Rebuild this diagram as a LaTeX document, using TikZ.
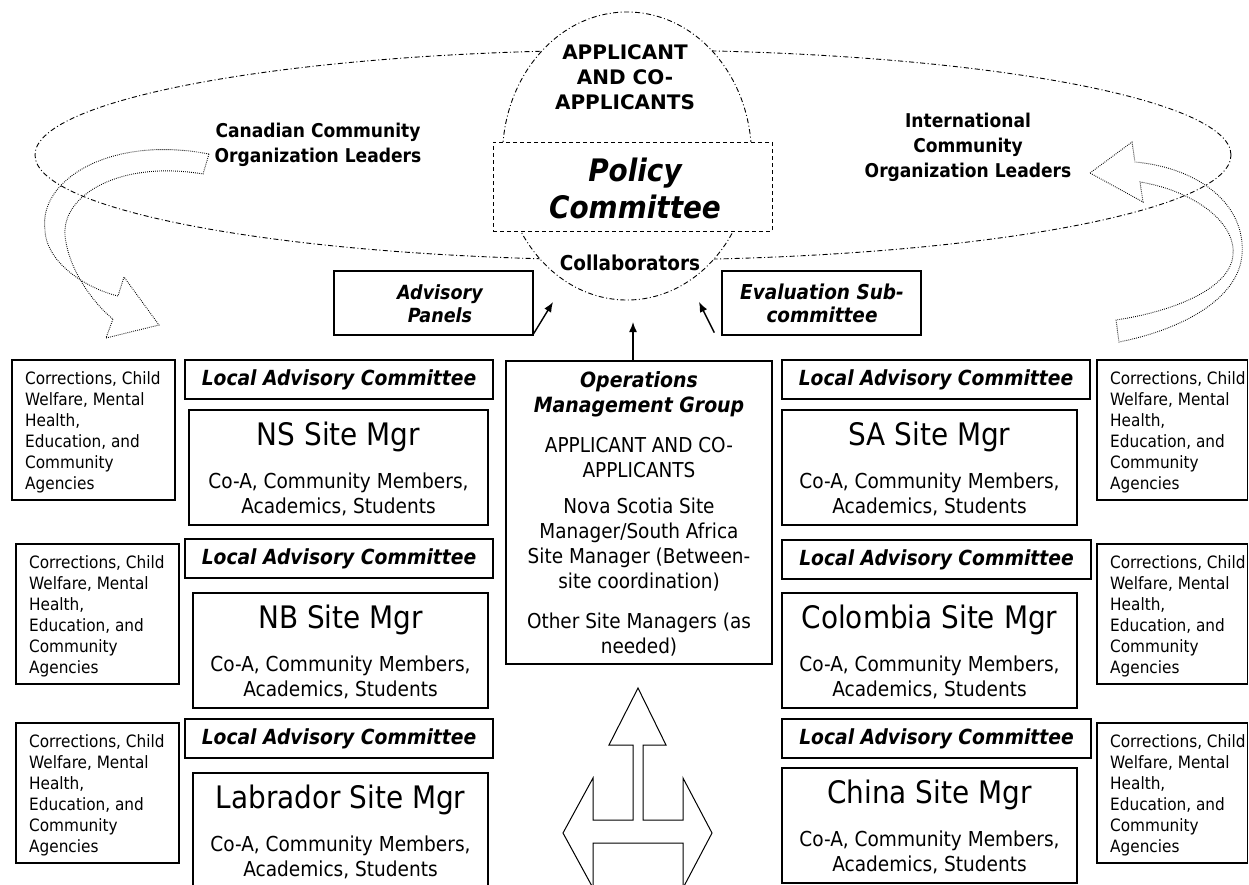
\documentclass[tikz,border=0pt]{standalone}
\usepackage{fontspec}
\setmainfont{DejaVu Sans Condensed}
\newfontfamily\widefont{DejaVu Sans}
\usetikzlibrary{arrows.meta,shapes.geometric}
\newcommand{\fs}[2]{\fontsize{#1}{#2}\selectfont}
\newcommand{\bi}{\bfseries\itshape}
\begin{document}
\begin{tikzpicture}[x=1pt,y=-1pt,
  box/.style={draw, line width=1.3pt, inner sep=0pt, fill=white},
  txt/.style={inner sep=0pt, align=center},
  ltxt/.style={inner sep=0pt, align=left, anchor=north west},
  dashdot/.style={dash pattern=on 5pt off 2.5pt on 1pt off 2.5pt, line width=0.9pt},
  dotline/.style={dash pattern=on 0.8pt off 1.2pt, line width=0.9pt},
  arr/.style={-{Latex[length=10pt,width=8pt]}, line width=1.4pt}]
\useasboundingbox (0,0) rectangle (1249,884);
\fill[white] (0,0) rectangle (1249,884);

% big ellipse
\node[draw, ellipse, dashdot, minimum width=1196pt, minimum height=210pt, inner sep=0pt] (ring) at (633,155) {};
% curved dotted arrows
\draw[dotline] (209,154) .. controls (110,135) and (38,180) .. (45,230)
   .. controls (46,262) and (85,288) .. (118,296) -- (124,277) -- (159,325) -- (106,338) -- (113,319)
   .. controls (95,305) and (68,270) .. (65,235) .. controls (62,195) and (120,160) .. (203,174) -- cycle;
\draw[dotline] (1090,173) -- (1132,142) -- (1135,162)
   .. controls (1200,168) and (1246,205) .. (1242,255) .. controls (1238,300) and (1180,330) .. (1119,342)
   -- (1116,320) .. controls (1170,312) and (1230,290) .. (1233,255)
   .. controls (1236,220) and (1190,190) .. (1140,182) -- (1143,202) -- cycle;

% core circle
\node[draw, ellipse, dashdot, fill=white, minimum width=249pt, minimum height=288pt, inner sep=0pt] (core) at (627,156) {};
\node[draw, dash pattern=on 4pt off 3pt, line width=1pt, fill=white, minimum width=279pt, minimum height=89pt, inner sep=0pt] (policy) at (632.5,186.5) {};
\node[txt, font=\fs{20}{25}\widefont\bfseries] (appl) at (625,77) {APPLICANT\\AND CO-\\APPLICANTS};
\node[txt, font=\fs{31}{37}\bi] (polT) at (635,188.5) {Policy\\Committee};
\node[txt, font=\fs{20.5}{25}\bfseries] (collab) at (630,263) {Collaborators};
\node[txt, font=\fs{19}{25}\bfseries] (canad) at (318,144.5) {Canadian Community\\Organization Leaders};
\node[txt, font=\fs{19}{25}\bfseries] (intl) at (968,147) {International\\Community\\Organization Leaders};

% advisory / evaluation
\node[box, minimum width=199pt, minimum height=64pt] (ap) at (433.5,303) {};
\node[txt, font=\fs{19.5}{23}\bi] (apT) at (440,303.5) {Advisory\\Panels};
\node[box, minimum width=199pt, minimum height=64pt] (es) at (821.5,303) {};
\node[txt, font=\fs{20.5}{23}\bi] (esT) at (822,303.5) {Evaluation Sub-\\committee};

% operations group
\node[box, minimum width=266pt, minimum height=303pt] (ops) at (639,512.5) {};
\node[txt, font=\fs{21}{25}\bi] (opsA) at (639,394.5) {Operations\\Management Group};
\node[txt, font=\fs{20.5}{25}] (opsB) at (639,457.5) {APPLICANT AND CO-\\APPLICANTS};
\node[txt, font=\fs{20.5}{25}] (opsC) at (639,545) {Nova Scotia Site\\Manager/South Africa\\Site Manager (Between-\\site coordination)};
\node[txt, font=\fs{20.5}{25}] (opsD) at (639,635) {Other Site Managers (as\\needed)};

% arrows to core
\coordinate (t1) at (553,302);
\coordinate (t2) at (633,322);
\coordinate (t3) at (699,302);
\draw[arr] ([yshift=2pt]ap.south east) -- (t1);
\draw[arr] (ops.north -| t2) -- (t2);
\draw[arr] ([xshift=-7pt,yshift=3pt]es.south west) -- (t3);

% local advisory committees
\foreach \n/\xa/\ya/\xb/\yb in {lacA/185/360/493/399, lacB/185/539/493/578, lacC/185/719/493/758,
  lacD/782/360/1090/399, lacE/782/540/1091/579, lacF/782/719/1091/758}{
  \node[box, minimum width={(\xb-\xa)*1pt}, minimum height={(\yb-\ya)*1pt}, font=\fs{20.8}{24}\bi]
    (\n) at ({(\xa+\xb)/2},{(\ya+\yb)/2}) {Local Advisory Committee};
}

% site manager boxes
\foreach \n/\xa/\ya/\xb/\yb/\t in {ns/189/410/488/525/NS Site Mgr, nb/193/593/488/708/NB Site Mgr,
  lab/193/773/488/888/Labrador Site Mgr, sa/782/410/1077/525/SA Site Mgr,
  col/782/593/1077/708/Colombia Site Mgr, chi/782/768/1077/883/China Site Mgr}{
  \node[box, minimum width={(\xb-\xa)*1pt}, minimum height={(\yb-\ya)*1pt}]
    (\n) at ({(\xa+\xb)/2},{(\ya+\yb)/2}) {};
  \node[txt, font=\fs{31}{37}] (\n T) at ({(\xa+\xb)/2},{\ya+27}) {\t};
  \node[txt, font=\fs{20.6}{25}] (\n S) at ({(\xa+\xb)/2},{\ya+84.5}) {Co-A, Community Members,\\Academics, Students};
}

% agencies boxes
\foreach \n/\xa/\ya/\xb/\yb in {agA/12/360/175/500, agB/16/544/179/684, agC/16/723/179/863,
  agD/1097/360/1247.5/500, agE/1097/544/1247.5/684, agF/1097/723/1247.5/863}{
  \node[box, minimum width={(\xb-\xa)*1pt}, minimum height={(\yb-\ya)*1pt}]
    (\n) at ({(\xa+\xb)/2},{(\ya+\yb)/2}) {};
  \node[ltxt, font=\fs{17}{21}] (\n T) at ({\xa+13},{\ya+11}) {Corrections, Child\\Welfare, Mental\\Health,\\Education, and\\Community\\Agencies};
}

% hollow T double arrow
\draw[line width=1pt, fill=white] (638,688) -- (666,745) -- (643,745) -- (643,820) -- (683,820) -- (683,778)
  -- (712,833) -- (683,888) -- (683,843) -- (593,843) -- (593,888) -- (563,833) -- (593,778)
  -- (593,820) -- (633,820) -- (633,745) -- (609,745) -- cycle;
\end{tikzpicture}
\end{document}
